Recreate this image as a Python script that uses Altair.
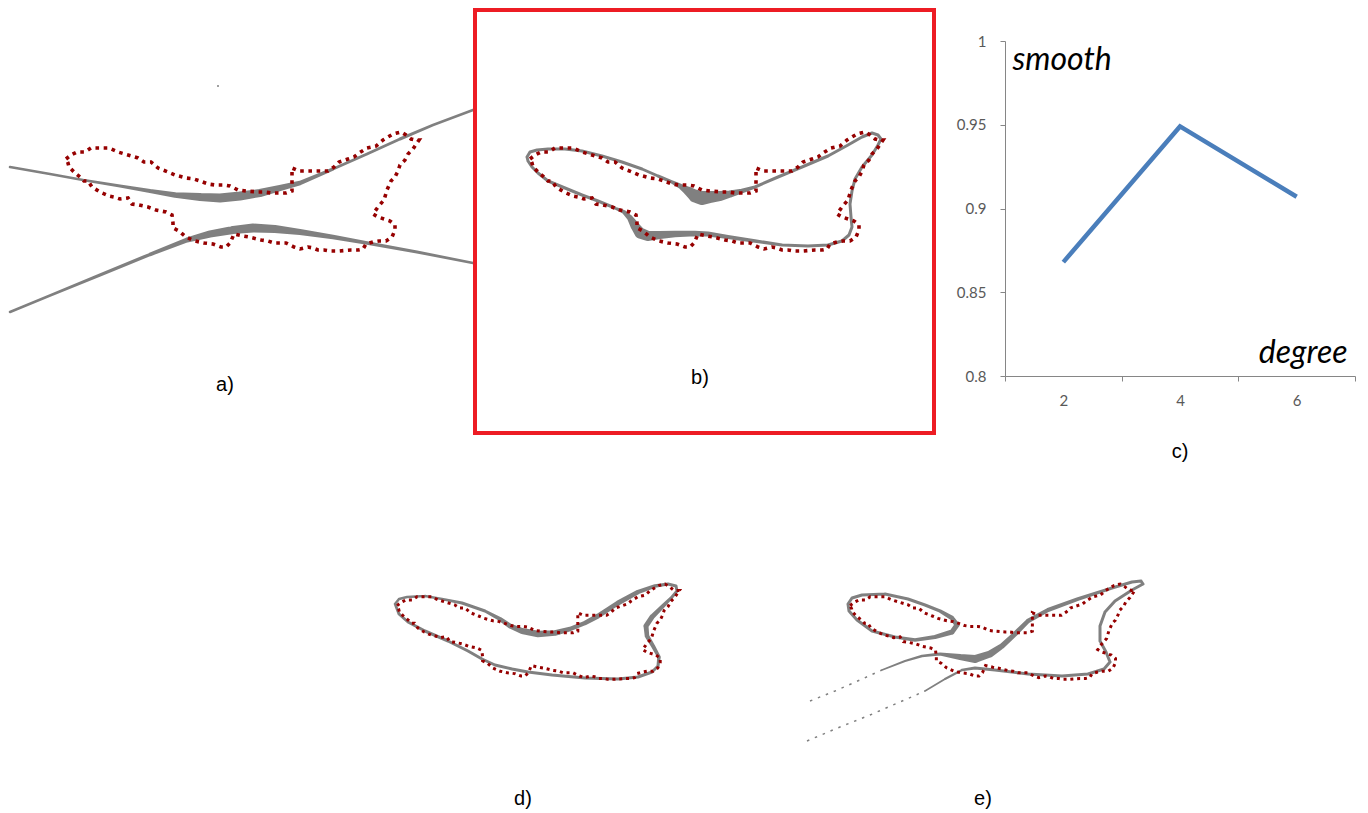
import altair as alt
import pandas as pd

# ---------------- data ----------------
# red dotted reference contour (read in panel b pixel frame)
contour_x = [530, 535, 541, 549, 555, 564, 573, 582, 592, 602,
             608, 615, 622, 632, 639, 650, 658, 664, 672, 679,
             688, 694, 702, 710, 722, 728, 735, 741, 750, 756,
             756, 756, 756, 763, 773, 783, 792, 798, 803, 812,
             818, 823, 831, 840, 847, 852, 857, 865, 870, 875,
             879, 883, 877, 872, 869, 864, 862, 859, 855, 851,
             848, 842, 837, 842, 848, 854, 859, 859, 856, 850,
             843, 837, 830, 827, 822, 815, 803, 793, 788, 782,
             777, 772, 764, 758, 750, 744, 738, 732, 725, 713,
             707, 698, 695, 694, 690, 685, 677, 668, 659, 650,
             643, 637, 637, 636, 630, 620, 612, 603, 596, 592,
             584, 578, 573, 564, 556, 552, 548, 544, 539, 533,
             532, 530]
contour_y = [160, 156, 153, 153, 149, 149, 149, 153, 156, 159,
             163, 163, 169, 173, 176, 179, 180, 182, 185, 186,
             186, 187, 191, 192, 193, 193, 194, 194, 194, 192,
             185, 175, 169, 172, 172, 172, 172, 168, 163, 160,
             158, 154, 149, 147, 141, 138, 135, 133, 136, 140,
             141, 141, 150, 155, 161, 166, 172, 178, 182, 191,
             201, 208, 215, 218, 220, 222, 226, 231, 238, 242,
             242, 243, 245, 250, 251, 251, 252, 252, 251, 251,
             249, 248, 250, 248, 244, 244, 244, 242, 241, 238,
             237, 235, 242, 244, 248, 248, 245, 244, 242, 238,
             232, 229, 224, 216, 213, 211, 208, 206, 205, 199,
             200, 198, 197, 193, 188, 182, 182, 178, 174, 168,
             164, 160]

# panel a: two fitted curves
a_upper_x = [10, 50, 83, 120, 150, 175, 200, 220, 240, 260, 280, 300, 333, 367, 400, 433, 473]
a_upper_y = [168, 175, 181, 187, 192, 196, 198, 199, 197, 194, 189, 184, 170, 155, 140, 126, 111]
a_upper_w = [2.5, 2.5, 2.5, 3, 4, 5.5, 8, 9, 9, 8, 6, 4.5, 3, 3, 3, 2.5, 2.5]
a_lower_x = [10, 50, 100, 150, 187, 210, 233, 253, 275, 300, 333, 367, 417, 473]
a_lower_y = [313, 296.5, 276, 255.5, 241, 235, 231, 229, 230, 233, 238, 244, 253, 264]
a_lower_w = [2.5, 2.5, 3, 3.5, 5, 7, 8, 9, 8, 6, 4.5, 3.5, 3, 2.5]
a_speck_x = [218]
a_speck_y = [87]

# panel b: closed fitted curve
b_x = [527, 530, 537, 548, 565, 582, 602, 622, 642, 658, 672, 680, 688, 695, 702, 710, 720, 730,
       742, 755, 778, 802, 828, 848, 862, 872, 878, 881, 878, 872, 862, 855, 852, 850, 851, 852,
       849, 842, 828, 808, 782, 755, 728, 708, 695, 675, 660, 648, 640, 635, 630, 624, 615, 598,
       582, 565, 548, 538, 532, 528, 527]
b_y = [158, 153, 151, 150, 150, 152, 157, 163, 170, 177, 183, 187, 192, 197, 199, 198, 197, 195,
       192, 188, 178, 168, 157, 146, 138, 134, 136, 140, 146, 156, 168, 180, 192, 205, 218, 228,
       236, 242, 246, 247, 246, 242, 238, 235, 234.5, 235, 236, 237, 234, 227, 219, 213, 209, 202,
       196, 189, 182, 174, 168, 162, 158]
b_w = [3, 3, 3, 3, 3, 3, 3, 3, 3, 3, 3.5, 5, 9, 13, 14, 12, 10, 7,
       4.5, 3, 3, 3, 3, 3, 3, 3, 3, 3, 3, 3, 3, 3, 3, 3, 3, 3,
       3, 3, 3, 3, 3, 3.5, 4, 5, 5.5, 6.5, 8, 10, 11, 9, 6, 4, 3, 3,
       3, 3, 3, 3, 3, 3, 3]

# panel d: closed fitted curve
d_x = [395, 399, 407, 425, 442, 462, 485, 500, 510, 522, 538, 555, 570, 585, 598, 618, 638, 655,
       668, 676, 677, 672, 662, 652, 646, 647, 653, 659, 658, 652, 638, 618, 585, 552, 528, 512,
       495, 482, 468, 448, 425, 408, 399, 395]
d_y = [605, 600, 598, 597, 600, 604, 612, 620, 627, 632, 635, 634, 630, 624, 617, 604, 593, 587,
       585, 587, 592, 598, 608, 618, 627, 637, 647, 658, 667, 673, 678, 680, 679, 676, 673, 670,
       666, 660, 652, 642, 632, 623, 615, 605]
d_w = [2.5, 2.5, 2.5, 2.5, 2.5, 3, 3, 4, 5, 6, 6.5, 5.5, 4.5, 4.5, 5, 5, 4.5, 3.5,
       3, 3, 3, 3, 4, 5, 5, 4.5, 4, 3.5, 3, 3, 3, 3, 3, 3, 3, 3,
       3, 3, 3, 3, 3, 3, 3, 2.5]

# panel e: main open curve, separate loop, and two sparse tails
e_main_x = [882, 905, 922, 940, 960, 975, 990, 1002, 1015, 1028, 1048, 1078, 1112, 1132, 1141, 1143,
            1132, 1115, 1105, 1100, 1100, 1106, 1110, 1104, 1088, 1062, 1028, 995, 975, 962, 945, 925]
e_main_y = [671, 662, 657, 655, 658, 660, 655, 647, 635, 622, 611, 600, 589, 583, 582, 585,
            591, 602, 613, 627, 642, 653, 663, 670, 675, 677, 675, 671, 669, 671, 680, 692]
e_main_w = [1.5, 2, 2.5, 3, 6, 8, 7, 5.5, 5, 4.5, 4, 3.5, 3, 3, 3, 3,
            3, 3, 3, 3, 3, 3, 3, 3, 3, 3, 3, 3, 3, 2.5, 2, 1.5]
e_loop_x = [848, 852, 862, 885, 908, 925, 940, 952, 957, 952, 935, 915, 895, 872, 857, 849, 848]
e_loop_y = [605, 599, 596, 595, 600, 606, 612, 619, 626, 633, 638, 641, 638, 632, 621, 612, 605]
e_loop_w = [3, 3, 3, 3, 3, 3, 3.5, 4.5, 5, 5, 4, 3.5, 3, 3, 3, 3, 3]
e_tail_up_x = [810, 835, 860, 882]
e_tail_up_y = [702, 692, 681, 671]
e_tail_low_x = [807, 840, 870, 900, 925]
e_tail_low_y = [742, 728, 716, 703, 692]

# panel c: smoothness vs degree
degrees = [2, 4, 6]
smoothness = [0.868, 0.949, 0.907]
y_ticks = [0.8, 0.85, 0.9, 0.95, 1.0]

panel_labels = ["a)", "b)", "c)", "d)", "e)"]

# ---------------- styles / layout ----------------
GRAY = "#808080"
RED = "#960000"
BOX = "#ED1C24"
BLUE = "#4A7EBB"
LABEL_FONT = "Liberation Sans"


def trail_frame(*segs):
    rows = []
    for name, xs, ys, ws in segs:
        for i, (x, y, w) in enumerate(zip(xs, ys, ws)):
            rows.append({"seg": name, "i": i, "x": x, "y": y, "w": w})
    return pd.DataFrame(rows)


def line_frame(*segs):
    rows = []
    for name, xs, ys in segs:
        for i, (x, y) in enumerate(zip(xs, ys)):
            rows.append({"seg": name, "i": i, "x": x, "y": y})
    return pd.DataFrame(rows)


contour_df = line_frame(("c", contour_x, contour_y))


def scales(xdom, ydom):
    return (alt.Scale(domain=list(xdom), nice=False, zero=False),
            alt.Scale(domain=list(ydom), nice=False, zero=False, reverse=True))


def shape_panel(px, py, w, h, trail_df, cmap, dot_w, dash, label, lab_page, extra=None):
    gxs, gys = scales((px, px + w), (py, py + h))
    gray = alt.Chart(trail_df).mark_trail(color=GRAY).encode(
        x=alt.X("x:Q", scale=gxs, axis=None),
        y=alt.Y("y:Q", scale=gys, axis=None),
        size=alt.Size("w:Q", scale=None, legend=None),
        detail="seg:N",
        order="i:Q",
    )
    (ax_page, ax_b, sx), (ay_page, ay_b, sy) = cmap
    cx = (ax_b + (px - ax_page) / sx, ax_b + (px + w - ax_page) / sx)
    cy = (ay_b + (py - ay_page) / sy, ay_b + (py + h - ay_page) / sy)
    cxs, cys = scales(cx, cy)
    contour = alt.Chart(contour_df).mark_line(
        color=RED, strokeWidth=dot_w, strokeDash=dash, strokeCap="butt"
    ).encode(
        x=alt.X("x:Q", scale=cxs, axis=None),
        y=alt.Y("y:Q", scale=cys, axis=None),
        order="i:Q",
    )
    text = alt.Chart(pd.DataFrame({"label": [label]})).mark_text(
        font=LABEL_FONT, fontSize=20, baseline="alphabetic", align="center", color="black"
    ).encode(
        text="label:N",
        x=alt.value(lab_page[0] - px),
        y=alt.value(lab_page[1] - py),
    )
    layers = [gray]
    if extra is not None:
        for df, kind, kw in extra:
            base = alt.Chart(df)
            m = base.mark_line(**kw) if kind == "line" else base.mark_circle(**kw)
            exs, eys = scales((px, px + w), (py, py + h))
            enc = dict(x=alt.X("x:Q", scale=exs, axis=None),
                       y=alt.Y("y:Q", scale=eys, axis=None))
            if kind == "line":
                enc["detail"] = "seg:N"
                enc["order"] = "i:Q"
            layers.append(m.encode(**enc))
    layers += [contour, text]
    return alt.layer(*layers).resolve_scale(x="independent", y="independent").properties(
        width=w, height=h
    )


# grid geometry (page pixels): left, top, width, height
COL_W = [467, 459, 71, 350]
ROW_H = [423, 372]
X0, Y0 = 8, 11
col_x = [X0, X0 + COL_W[0], X0 + COL_W[0] + COL_W[1], X0 + sum(COL_W[:3])]
row_y = [Y0, Y0 + ROW_H[0]]
C_TOP_PAD, C_H = 31, 335

A = (col_x[0], row_y[0], COL_W[0], ROW_H[0])
B = (col_x[1], row_y[0], COL_W[1], ROW_H[0])
D = (col_x[0], row_y[1], COL_W[0], ROW_H[1])
E = (col_x[1], row_y[1], COL_W[1], ROW_H[1])

panel_a = shape_panel(
    *A,
    trail_frame(("up", a_upper_x, a_upper_y, a_upper_w), ("low", a_lower_x, a_lower_y, a_lower_w)),
    ((66, 530, 1.0), (160, 160, 1.0)), 3.6, [3.6, 4.6], panel_labels[0], (225, 392),
    extra=[(pd.DataFrame({"x": a_speck_x, "y": a_speck_y}), "point",
            dict(color=GRAY, size=4, opacity=1))],
)

panel_b = shape_panel(
    *B,
    trail_frame(("b", b_x, b_y, b_w)),
    ((530, 530, 1.0), (160, 160, 1.0)), 3.6, [3.6, 4.6], panel_labels[1], (700, 385),
).properties(view=alt.ViewBackground(stroke=BOX, strokeWidth=4))

panel_d = shape_panel(
    *D,
    trail_frame(("d", d_x, d_y, d_w)),
    ((397, 530, 0.8), (585, 133, 0.8)), 3.0, [3.0, 3.8], panel_labels[3], (523, 806),
)

panel_e = shape_panel(
    *E,
    trail_frame(("main", e_main_x, e_main_y, e_main_w), ("loop", e_loop_x, e_loop_y, e_loop_w)),
    ((850, 530, 0.807), (585, 133, 0.8)), 3.0, [3.0, 3.8], panel_labels[4], (983, 806),
    extra=[(line_frame(("t1", e_tail_up_x, e_tail_up_y), ("t2", e_tail_low_x, e_tail_low_y)),
            "line", dict(color=GRAY, strokeWidth=1.5, strokeDash=[2.5, 6]))],
)

# panel c
c_df = pd.DataFrame({"degree": degrees, "smooth": smoothness})
c_h_total = C_TOP_PAD + C_H
panel_c = alt.Chart(c_df).mark_line(color=BLUE, strokeWidth=4.5, strokeCap="butt").encode(
    x=alt.X(
        "degree:O",
        scale=alt.Scale(type="band", paddingInner=0, paddingOuter=0),
        axis=alt.Axis(
            title="degree", titleFont="Lato", titleFontStyle="italic", titleFontWeight="normal",
            titleFontSize=32, titleColor="black", titleX=342, titleY=-14, titleAlign="right",
            titleBaseline="alphabetic", titleAngle=0,
            labelAngle=0, labelFont="Lato", labelFontSize=15, labelColor="#595959",
            labelPadding=12, tickSize=5, tickColor="#868686", domainColor="#868686",
            grid=False, tickBand="extent",
        ),
    ),
    y=alt.Y(
        "smooth:Q",
        scale=alt.Scale(domain=[0.8, 1.0], nice=False, zero=False, range=[c_h_total, C_TOP_PAD]),
        axis=alt.Axis(
            values=y_ticks, format="~g",
            title="smooth", titleFont="Lato", titleFontStyle="italic", titleFontWeight="normal",
            titleFontSize=32, titleColor="black", titleX=7, titleY=C_TOP_PAD + 28, titleAlign="left",
            titleBaseline="alphabetic", titleAngle=0,
            labelFont="Lato", labelFontSize=15, labelColor="#595959", labelPadding=14,
            tickSize=5, tickColor="#868686", domainColor="#868686", grid=False,
        ),
    ),
).properties(
    width=COL_W[3], height=c_h_total,
    title=alt.TitleParams(panel_labels[2], orient="bottom", font=LABEL_FONT, fontSize=20,
                          fontWeight="normal", color="black", offset=34, anchor="middle"),
)

spacer = alt.Chart(pd.DataFrame({"v": [0]})).mark_point(opacity=0, size=1).encode(
    x=alt.value(1), y=alt.value(1)
).properties(width=COL_W[2], height=1)

chart = alt.concat(
    panel_a, panel_b, spacer, panel_c, panel_d, panel_e,
    columns=4, spacing=0, bounds="flush",
).properties(
    padding={"left": 0, "top": 0, "right": 0, "bottom": 0}
).configure_view(strokeWidth=0)

chart.save("out.html", embed_options={"renderer": "svg", "actions": False})
